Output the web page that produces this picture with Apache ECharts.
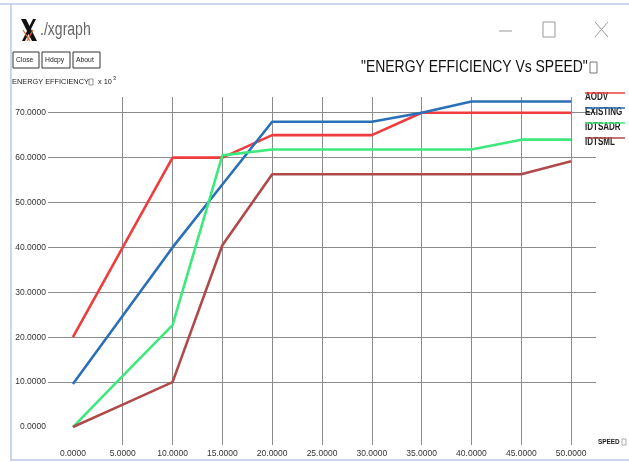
<!DOCTYPE html>
<html>
<head>
<meta charset="utf-8">
<script src="https://cdn.jsdelivr.net/npm/echarts@6/dist/echarts.min.js"></script>
<style>
  html, body { margin: 0; padding: 0; background: #ffffff; }
  #chart { width: 629px; height: 462px; }
</style>
</head>
<body>
<div id="chart"></div>
<script>
// Speed samples (x) and energy efficiency (x 10^3) per protocol
const speed = [0, 5, 10, 15, 20, 25, 30, 35, 40, 45, 50];
const aodv = [20, 40, 60, 60, 65, 65, 65, 70, 70, 70, 70];
const existing = [9.6, 24.8, 40, 54, 68, 68, 68, 70, 72.5, 72.5, 72.5];
const idtsadr = [0, 11.4, 22.7, 60.5, 61.8, 61.8, 61.8, 61.8, 61.8, 64, 64];
const idtsml = [0, 5, 10, 40.5, 56.3, 56.3, 56.3, 56.3, 56.3, 56.3, 59.2];

const seriesNames = ['AODV', 'EXISTING', 'IDTSADR', 'IDTSML'];
const seriesColors = ['#ef3c3c', '#2a70b8', '#3de87c', '#b04a4a'];
const seriesValues = [aodv, existing, idtsadr, idtsml];

const xTicks = [0, 5, 10, 15, 20, 25, 30, 35, 40, 45, 50];
const yTicks = [0, 10, 20, 30, 40, 50, 60, 70];

const sans = '"Liberation Sans", Arial, sans-serif';
const fmt = v => v.toFixed(4);

// condensed text helper (horizontal squeeze to mimic a narrow face)
function txt(x, y, text, font, fill, squeeze) {
  return {
    type: 'text', x: x, y: y, scaleX: squeeze || 0.82, z: 10,
    style: { text: text, fill: fill || '#222', font: font + ' ' + sans, textVerticalAlign: 'top' }
  };
}

const chart = echarts.init(document.getElementById('chart'), null, { renderer: 'canvas' });

const series = seriesNames.map((name, i) => ({
  name: name,
  type: 'line',
  data: speed.map((s, k) => [s, seriesValues[i][k]]),
  showSymbol: false,
  symbol: 'none',
  lineStyle: { color: seriesColors[i], width: 2.6 },
  itemStyle: { color: seriesColors[i] },
  animation: false,
  z: 3
}));

// Legend drawn xgraph style: colour bar over each name
const legendGraphics = [];
seriesNames.forEach((name, i) => {
  const y = 97 + i * 15;
  legendGraphics.push(txt(585, y - 5, name, 'bold 10px', '#222', 0.8));
  legendGraphics.push({
    type: 'line', shape: { x1: 585, y1: y - 4, x2: 625, y2: y - 4 },
    style: { stroke: seriesColors[i], lineWidth: 2, opacity: 0.75 },
    z: 11
  });
});

const chrome = [
  // window frame
  { type: 'line', shape: { x1: 0, y1: 4, x2: 629, y2: 4 }, style: { stroke: '#b7cde3', lineWidth: 1.5 } },
  { type: 'line', shape: { x1: 11, y1: 4, x2: 11, y2: 461 }, style: { stroke: '#b7cde3', lineWidth: 1.5 } },
  { type: 'line', shape: { x1: 11, y1: 460, x2: 629, y2: 460 }, style: { stroke: '#b7cde3', lineWidth: 1.5 } },
  // X logo
  { type: 'polygon', shape: { points: [[21, 19], [26, 19], [37, 41], [32, 41]] }, style: { fill: '#111' } },
  { type: 'polygon', shape: { points: [[33, 19], [36, 19], [25, 41], [22, 41]] }, style: { fill: '#111' } },
  { type: 'line', shape: { x1: 23, y1: 30, x2: 30, y2: 41 }, style: { stroke: '#e8602c', lineWidth: 1.2 } },
  { type: 'line', shape: { x1: 27, y1: 41, x2: 33, y2: 30 }, style: { stroke: '#e8602c', lineWidth: 1.2 } },
  txt(40, 21, './xgraph', '18px', '#666', 0.78),
  // window controls
  { type: 'line', shape: { x1: 499, y1: 31, x2: 512, y2: 31 }, style: { stroke: '#999', lineWidth: 1 } },
  { type: 'rect', shape: { x: 543, y: 22, width: 12, height: 15 }, style: { fill: 'none', stroke: '#999', lineWidth: 1 } },
  { type: 'line', shape: { x1: 595, y1: 22, x2: 608, y2: 37 }, style: { stroke: '#999', lineWidth: 1 } },
  { type: 'line', shape: { x1: 608, y1: 22, x2: 595, y2: 37 }, style: { stroke: '#999', lineWidth: 1 } },
  // buttons
  { type: 'rect', shape: { x: 13, y: 52, width: 26, height: 16 }, style: { fill: '#fff', stroke: '#333', lineWidth: 1 } },
  txt(16, 56, 'Close', '8px', '#222', 0.85),
  { type: 'rect', shape: { x: 42, y: 52, width: 28, height: 16 }, style: { fill: '#fff', stroke: '#333', lineWidth: 1 } },
  txt(45, 56, 'Hdcpy', '8px', '#222', 0.85),
  { type: 'rect', shape: { x: 73, y: 52, width: 27, height: 16 }, style: { fill: '#fff', stroke: '#333', lineWidth: 1 } },
  txt(76, 56, 'About', '8px', '#222', 0.85),
  // chart title
  txt(361, 59, '"ENERGY EFFICIENCY Vs SPEED"', '17px', '#111', 0.82),
  { type: 'rect', shape: { x: 590, y: 62, width: 7, height: 11 }, style: { fill: 'none', stroke: '#777', lineWidth: 1 } },
  // y axis title
  txt(12, 78, 'ENERGY EFFICIENCY', '8px', '#222', 0.92),
  { type: 'rect', shape: { x: 89, y: 79, width: 4, height: 6 }, style: { fill: 'none', stroke: '#777', lineWidth: 0.8 } },
  txt(98, 78, 'x 10', '8px', '#222', 0.92),
  txt(113, 75, '3', '6px', '#222', 0.9),
  // x axis title
  txt(598, 438, 'SPEED', 'bold 8px', '#222', 0.8),
  { type: 'rect', shape: { x: 622, y: 439, width: 4, height: 6 }, style: { fill: 'none', stroke: '#999', lineWidth: 0.8 } }
];

const gridLine = { show: true, lineStyle: { color: '#8c8c8c', width: 1 } };

chart.setOption({
  backgroundColor: '#ffffff',
  animation: false,
  grid: { left: 48, right: 33, top: 97, bottom: 17, containLabel: false },
  xAxis: {
    type: 'value', min: -2.5, max: 52.5,
    axisLine: { show: false },
    axisTick: { show: false, customValues: xTicks.filter(v => v !== 0) },
    splitLine: gridLine,
    axisLabel: {
      customValues: xTicks, formatter: fmt, margin: 4,
      color: '#333', fontSize: 8.5, fontFamily: sans
    }
  },
  yAxis: {
    type: 'value', min: -4, max: 73.5,
    axisLine: { show: false },
    axisTick: { show: false, customValues: yTicks.filter(v => v !== 0) },
    splitLine: gridLine,
    axisLabel: {
      customValues: yTicks, formatter: fmt, margin: 2,
      color: '#333', fontSize: 8.5, fontFamily: sans
    }
  },
  series: series,
  graphic: chrome.concat(legendGraphics)
});
</script>
</body>
</html>
